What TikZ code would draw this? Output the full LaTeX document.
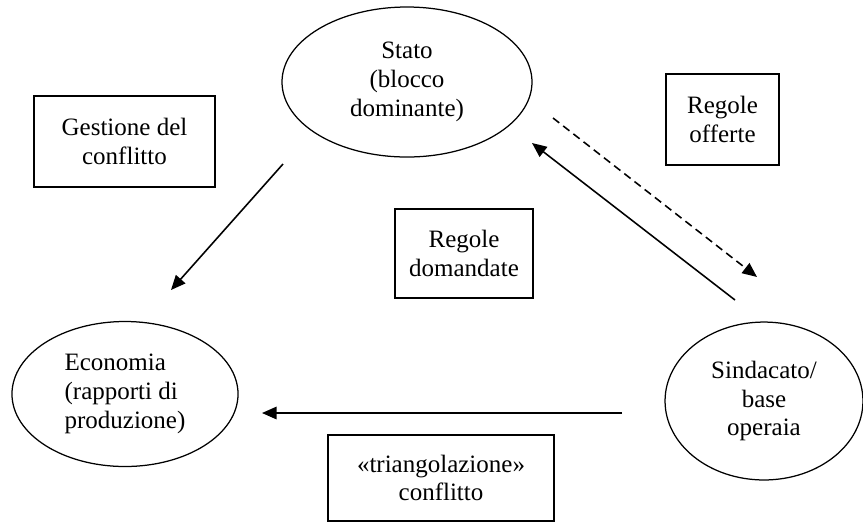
\documentclass[tikz,border=0pt]{standalone}
\usepackage{fontspec}
\setmainfont{Liberation Serif}
\usetikzlibrary{arrows.meta,shapes.geometric}

\begin{document}
\begin{tikzpicture}[
    x=0.48pt, y=-0.48pt,
    font=\fontsize{12}{13.8}\selectfont,
    oval/.style={draw, ellipse, line width=0.6pt, align=center, inner sep=0pt},
    notebox/.style={draw, line width=0.8pt, align=center, inner sep=0pt},
    flow/.style={-{Triangle[length=7pt,width=6pt]}, line width=0.75pt}
]
\useasboundingbox (0,0) rectangle (863,525);

\node[oval, minimum width=120pt, minimum height=72pt] (stato) at (407,82) {Stato\\(blocco\\dominante)};
\node[oval, minimum width=108.5pt, minimum height=69.6pt, align=left] (eco) at (125,394) {Economia\\(rapporti di\\produzione)};
\node[oval, minimum width=95pt, minimum height=75.8pt] (sind) at (764,401) {Sindacato/\\base\\operaia};

\node[notebox, minimum width=86.9pt, minimum height=43.7pt] (gest) at (124.5,141.5) {Gestione del\\conflitto};
\node[notebox, minimum width=66.2pt, minimum height=42.7pt] (dom) at (464,253.5) {Regole\\domandate};
\node[notebox, minimum width=54.2pt, minimum height=43.7pt] (off) at (722.5,119.5) {Regole\\offerte};
\node[notebox, minimum width=108.5pt, minimum height=41.3pt] (tri) at (441,478) {«triangolazione»\\conflitto};

% arrow ends
\coordinate (statoOut) at (283,164);
\coordinate (ecoIn) at (171,290);
\coordinate (sindOut) at (735,300);
\coordinate (statoIn) at (532,143);
\coordinate (statoDash) at (553,118);
\coordinate (sindIn) at (757,277);
\coordinate (sindLeft) at (622,413);
\coordinate (ecoRight) at (262,413);

\draw[flow] (statoOut) -- (ecoIn);
\draw[flow] (sindOut) -- (statoIn);
\draw[flow, dash pattern=on 3.8pt off 2.4pt] (statoDash) -- (sindIn);
\draw[flow] (sindLeft) -- (ecoRight);
\end{tikzpicture}
\end{document}
